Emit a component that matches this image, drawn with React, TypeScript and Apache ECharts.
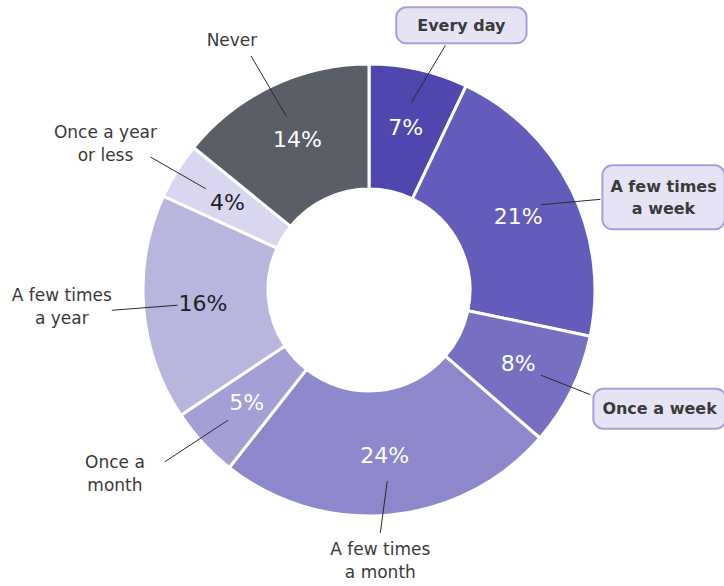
import React, { useEffect, useRef } from 'react';
import * as echarts from 'echarts';

const categories = [
  'Every day',
  'A few times\na week',
  'Once a week',
  'A few times\na month',
  'Once a\nmonth',
  'A few times\na year',
  'Once a year\nor less',
  'Never',
];
const values = [7, 21, 8, 24, 5, 16, 4, 14];

const sliceColors = ['#4f47ae', '#635cbb', '#7770c2', '#8c88cb', '#a4a0d6', '#b8b5df', '#d9d7ef', '#5a5e66'];
const pctColors = ['#ffffff', '#ffffff', '#ffffff', '#ffffff', '#ffffff', '#222222', '#222222', '#ffffff'];
const boxed = [true, true, true, false, false, false, false, false];

// layout tweaks (label line end shift, label placement relative to line end)
const endShift = [[20, 5], [2, 23], [-8, -9], [-13, -12], [-16, -2], [-2, 0], [-1, 2], [-8, -3]];
const labelMode = ['center', 'leftEdge', 'leftEdge', 'center', 'center', 'center', 'center', 'center'];
const labelOffset = [[16, -20], [1, -2], [2, 14], [0, 28], [-50, 12], [-50, -4], [-45, -14], [-19, -16]];
const boxPadding = [[6, 20], [9, 7], [8, 8], 0, 0, 0, 0, 0];

const FONT = '"DejaVu Sans", "Noto Sans", sans-serif';

export default function App() {
  const ref = useRef<HTMLDivElement>(null);
  useEffect(() => {
    if (!ref.current) return;
    const chart = echarts.init(ref.current, undefined, { renderer: 'svg' });
    const option: any = {
      animation: false,
      backgroundColor: '#ffffff',
      series: [
        {
          type: 'pie',
          center: [369, 290],
          radius: [101, 226],
          startAngle: 90,
          silent: true,
          avoidLabelOverlap: false,
          itemStyle: { borderColor: '#ffffff', borderWidth: 3 },
          label: {
            show: true,
            position: 'inside',
            formatter: (p: any) => p.value + '%',
            fontFamily: FONT,
            fontSize: 22,
          },
          labelLine: { show: false },
          emphasis: { disabled: true },
          data: values.map((v, i) => ({
            name: categories[i],
            value: v,
            itemStyle: { color: sliceColors[i] },
            label: { color: pctColors[i] },
          })),
        },
        {
          type: 'pie',
          center: [369, 290],
          radius: [0, 192],
          startAngle: 90,
          silent: true,
          z: 3,
          avoidLabelOverlap: false,
          itemStyle: { color: 'rgba(0,0,0,0)', borderWidth: 0 },
          emphasis: { disabled: true },
          label: {
            show: true,
            position: 'outside',
            formatter: '{b}',
            fontFamily: FONT,
            fontSize: 17,
            lineHeight: 23,
            color: '#3a3a3a',
            distanceToLabelLine: 2,
          },
          labelLine: {
            show: true,
            length: 64,
            length2: 0,
            lineStyle: { color: '#2b2b2b', width: 1 },
          },
          labelLayout: (p: any) => {
            const pts = p.labelLinePoints;
            if (!pts || !pts.length) return {};
            const i = p.dataIndex;
            const raw = pts[pts.length - 1];
            const end = [raw[0] + endShift[i][0], raw[1] + endShift[i][1]];
            const w = p.labelRect ? p.labelRect.width : 0;
            const off = labelOffset[i];
            let cx = end[0] + off[0];
            if (labelMode[i] === 'leftEdge') cx = end[0] + off[0] + w / 2;
            return {
              x: cx,
              y: end[1] + off[1],
              align: 'center',
              verticalAlign: 'middle',
              labelLinePoints: [pts[0], end],
            };
          },
          data: values.map((v, i) => ({
            name: categories[i],
            value: v,
            label: boxed[i]
              ? {
                  fontWeight: 'bold',
                  fontSize: 16,
                  lineHeight: 22,
                  backgroundColor: '#e6e4f4',
                  borderColor: '#a7a1d8',
                  borderWidth: 2,
                  borderRadius: 9,
                  padding: boxPadding[i],
                  color: '#3a3a3a',
                }
              : {},
          })),
        },
      ],
    };
    chart.setOption(option);
    return () => chart.dispose();
  }, []);
  return (
    <div
      ref={ref}
      style={{ position: 'fixed', left: 0, top: 0, width: 724, height: 586 }}
    />
  );
}
